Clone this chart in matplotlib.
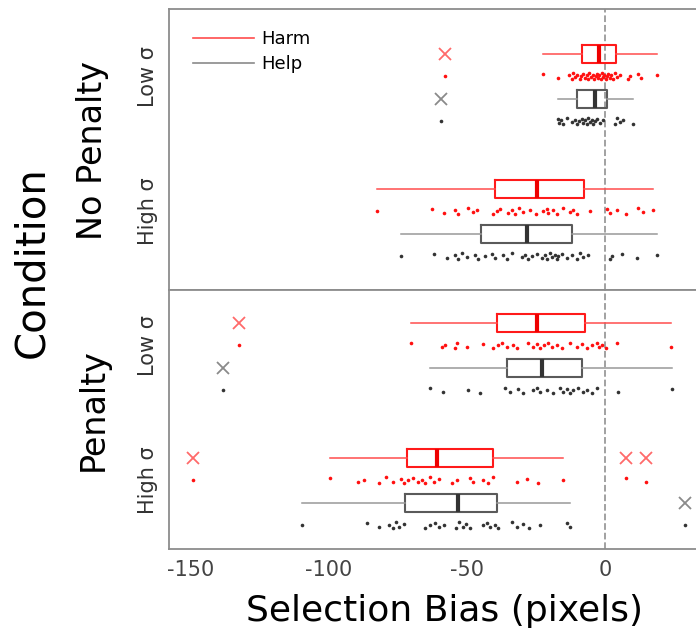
import numpy as np
import matplotlib
matplotlib.use('Agg')
from matplotlib import pyplot
from matplotlib.lines import Line2D

pyplot.rcParams['axes.unicode_minus'] = False

CONDITIONS = ['No Penalty', 'Penalty']
SIGMA_LABELS = ['Low σ', 'High σ']
GROUPS = ['Harm', 'Help']

# box stats: whislo, q1, median, q3, whishi
np_low_harm_box = [-22.5, -8.4, -2.2, 4.0, 18.7]
np_low_help_box = [-17.2, -10.0, -3.5, 0.8, 10.0]
np_high_harm_box = [-82.6, -39.9, -24.6, -7.6, 17.4]
np_high_help_box = [-74.0, -44.8, -28.3, -12.0, 19.0]
p_low_harm_box = [-70.4, -39.2, -24.6, -7.4, 23.9]
p_low_help_box = [-63.4, -35.5, -22.8, -8.5, 24.4]
p_high_harm_box = [-99.6, -71.8, -60.9, -40.5, -15.3]
p_high_help_box = [-109.8, -72.3, -53.1, -39.2, -12.6]

np_low_harm_fliers = [-58.0]
np_low_help_fliers = [-59.3]
np_high_harm_fliers = []
np_high_help_fliers = []
p_low_harm_fliers = [-132.8]
p_low_help_fliers = [-138.3]
p_high_harm_fliers = [-149.2, 7.6, 14.7]
p_high_help_fliers = [28.9]

# individual participant values (the dots under each box)
np_low_harm_pts = [-58.0, -22.6, -16.9, -12.9, -12.1, -11.5, -10.9, -10.0, -9.1,
                   -8.6, -8.1, -7.2, -6.6, -6.2, -5.8, -5.1, -4.5, -4.0, -3.3,
                   -3.0, -2.7, -2.1, -1.4, -1.0, -0.8, -0.2, 0.4, 0.8, 1.0, 1.8,
                   2.2, 2.8, 3.6, 4.5, 5.4, 8.5, 9.1, 12.1, 12.9, 18.7]
np_low_help_pts = [-59.3, -17.2, -16.8, -16.1, -15.3, -13.9, -12.1, -10.9, -10.0,
                   -9.3, -8.5, -7.9, -7.2, -6.6, -6.0, -5.4, -4.8, -4.2, -3.6,
                   -2.8, -1.8, -0.8, 3.6, 4.5, 5.4, 6.6, 10.0]
np_high_harm_pts = [-82.6, -62.8, -58.3, -54.3, -53.1, -49.5, -47.7, -46.5, -40.5,
                    -39.2, -38.0, -35.0, -33.8, -32.6, -31.0, -29.6, -27.2, -25.0,
                    -22.4, -21.1, -20.5, -18.7, -17.5, -15.1, -12.7, -11.5, -10.0,
                    -5.4, 0.6, 1.8, 4.5, 7.6, 11.8, 13.7, 17.4]
np_high_help_pts = [-74.0, -62.0, -57.4, -54.3, -53.1, -51.9, -50.1, -47.1, -45.9,
                    -43.5, -41.1, -39.9, -36.8, -35.6, -33.8, -30.2, -29.0, -27.8,
                    -26.6, -24.7, -22.9, -21.7, -21.1, -19.9, -19.3, -18.1, -17.5,
                    -16.9, -15.7, -13.9, -12.1, -10.3, -9.1, -7.9, -6.0, 1.8, 2.4,
                    6.0, 11.7, 19.0]
p_low_harm_pts = [-132.8, -70.4, -59.2, -58.0, -54.3, -53.7, -50.1, -44.1, -40.5,
                  -38.7, -37.4, -35.6, -33.2, -32.0, -28.0, -26.0, -24.7, -23.6,
                  -22.0, -20.5, -19.3, -17.5, -15.7, -12.7, -10.3, -8.5, -6.6,
                  -4.8, -3.0, -2.0, -1.2, 0.4, 4.5, 23.9]
p_low_help_pts = [-138.3, -63.4, -58.6, -49.5, -45.3, -36.2, -34.4, -31.4, -29.6,
                  -26.0, -24.7, -23.6, -21.1, -18.7, -16.3, -15.1, -13.9, -12.7,
                  -11.5, -9.7, -7.9, -6.6, -4.8, -3.0, 4.8, 24.4]
p_high_harm_pts = [-149.2, -99.6, -89.4, -87.5, -82.0, -79.5, -77.0, -73.9, -72.7,
                   -71.4, -69.6, -67.7, -66.5, -65.2, -63.4, -62.1, -60.3, -55.3,
                   -53.5, -49.1, -47.9, -44.2, -42.3, -40.5, -31.8, -28.1, -24.4,
                   -15.3, 7.6, 14.7]
p_high_help_pts = [-109.8, -86.3, -82.0, -78.2, -77.0, -75.8, -74.5, -73.0, -65.2,
                   -63.4, -61.5, -60.3, -58.4, -54.1, -52.9, -51.6, -50.4, -49.1,
                   -44.2, -42.9, -41.7, -39.9, -38.6, -33.7, -31.8, -29.9, -27.5,
                   -23.7, -13.8, -12.6, 28.9]

panels = [
    [[(np_low_harm_box, np_low_harm_fliers, np_low_harm_pts),
      (np_low_help_box, np_low_help_fliers, np_low_help_pts)],
     [(np_high_harm_box, np_high_harm_fliers, np_high_harm_pts),
      (np_high_help_box, np_high_help_fliers, np_high_help_pts)]],
    [[(p_low_harm_box, p_low_harm_fliers, p_low_harm_pts),
      (p_low_help_box, p_low_help_fliers, p_low_help_pts)],
     [(p_high_harm_box, p_high_harm_fliers, p_high_harm_pts),
      (p_high_help_box, p_high_help_fliers, p_high_help_pts)]],
]

styles = {
    'Harm': dict(box='#ff1a1a', whisk='#ff4d4d', med='#ee0000', flier='#ff6a6a', dot='#ff1010'),
    'Help': dict(box='#5a5a5a', whisk='#999999', med='#333333', flier='#8a8a8a', dot='#333333'),
}

W, H = 696, 637
fig = pyplot.figure(figsize=(W / 100, H / 100), dpi=100)

# axes rectangles in pixels (left, top, right, bottom)
left_px, right_px = 169, 700
rects = [(9, 290), (290, 548.5)]
ylims = [(1.583, -0.4985), (1.504, -0.411)]
jit_pattern = np.array([0.0, -0.018, 0.014, -0.007, 0.02, -0.022, 0.008, -0.012, 0.017])

axes = []
for k, (top_px, bot_px) in enumerate(rects):
    ax = fig.add_axes([left_px / W, 1 - bot_px / H, (right_px - left_px) / W,
                       (bot_px - top_px) / H])
    axes.append(ax)
    ax.axvline(0, color='#9a9a9a', ls='--', lw=1.3, zorder=0)
    for i, sigma_data in enumerate(panels[k]):
        for j, (box, fliers, pts) in enumerate(sigma_data):
            st = styles[GROUPS[j]]
            box_pos = i - 1 / 6 + j / 3
            dot_pos = i + j / 3
            stats = dict(whislo=box[0], q1=box[1], med=box[2], q3=box[3],
                         whishi=box[4], fliers=fliers)
            ax.bxp([stats], positions=[box_pos], widths=0.135,
                   orientation='horizontal', showcaps=False,
                   boxprops=dict(color=st['box'], lw=1.5),
                   whiskerprops=dict(color=st['whisk'], lw=1.1),
                   medianprops=dict(color=st['med'], lw=3),
                   flierprops=dict(marker='x', markersize=9, mew=1.3,
                                   markeredgecolor=st['flier'], linestyle='none'))
            jit = np.resize(jit_pattern, len(pts))
            ax.plot(pts, dot_pos + jit, 'o', ms=2.6, color=st['dot'],
                    mew=0, zorder=3)
    ax.set_xlim(-158, (right_px - 605) / 2.76)
    ax.set_ylim(*ylims[k])
    ax.set_yticks([0, 1])
    ax.set_yticklabels(SIGMA_LABELS, rotation=90, va='center', fontsize=15,
                       color='#333333')
    ax.tick_params(length=0, pad=8)
    for s in ax.spines.values():
        s.set_color('#8c8c8c')
        s.set_linewidth(1.3)

axes[0].set_xticks([])
axes[1].set_xticks([-150, -100, -50, 0])
axes[1].set_xticklabels(['-150', '-100', '-50', '0'], fontsize=15, color='#444444')

handles = [Line2D([], [], color='#ff4d4d', lw=1.2),
           Line2D([], [], color='#8a8a8a', lw=1.2)]
axes[0].legend(handles, GROUPS, loc='upper left', bbox_to_anchor=(0.045, 0.925),
               frameon=False, fontsize=13, handlelength=3.4, handletextpad=0.4,
               labelspacing=0.4, borderpad=0, borderaxespad=0)

fig.text(93 / W, 1 - 150 / H, 'No Penalty', rotation=90, ha='center', va='center',
         fontsize=24)
fig.text(93 / W, 1 - 410 / H, 'Penalty', rotation=90, ha='center', va='center',
         fontsize=24)
fig.text(32 / W, 1 - 262 / H, 'Condition', rotation=90, ha='center', va='center',
         fontsize=29)
fig.text(444 / W, 1 - 611 / H, 'Selection Bias (pixels)', ha='center', va='center',
         fontsize=26)

pyplot.savefig('out.png', dpi=100)
